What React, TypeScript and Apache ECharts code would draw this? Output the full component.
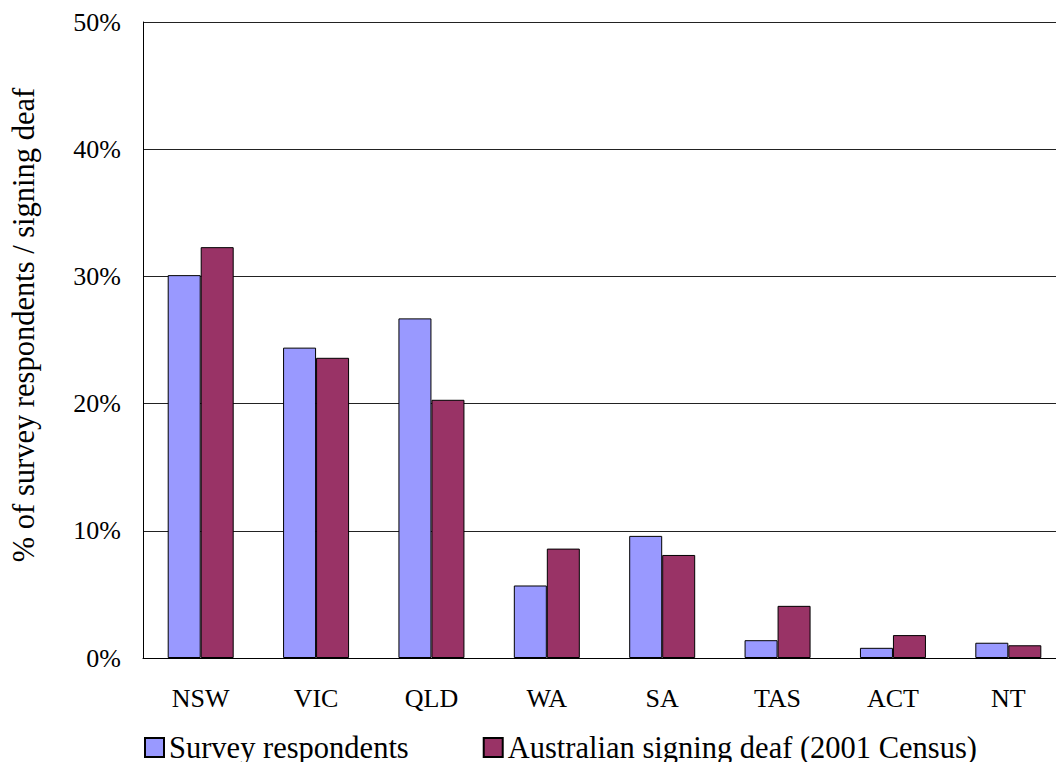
import React, { useEffect, useRef } from "react";
import * as echarts from "echarts";

const categories = ["NSW", "VIC", "QLD", "WA", "SA", "TAS", "ACT", "NT"];
const surveyRespondents = [30.1, 24.4, 26.7, 5.7, 9.6, 1.4, 0.8, 1.2];
const signingDeafCensus = [32.3, 23.6, 20.3, 8.6, 8.1, 4.1, 1.8, 1.0];
const seriesNames = ["Survey respondents", "Australian signing deaf (2001 Census)"];
const yAxisTitle = "% of survey respondents / signing deaf";

const FONT = "Liberation Serif";

export default function App() {
  const ref = useRef<HTMLDivElement>(null);
  useEffect(() => {
    if (!ref.current) return;
    const chart = echarts.init(ref.current, null, { renderer: "svg" });
    chart.setOption({
      animation: false,
      backgroundColor: "#ffffff",
      textStyle: { fontFamily: FONT },
      grid: {
        left: 143,
        top: 22,
        width: 923,
        height: 636,
        containLabel: false,
        outerBoundsMode: "none",
      },
      legend: {
        left: 139,
        top: 727,
        itemWidth: 19,
        itemHeight: 19,
        itemGap: 74,
        icon: "rect",
        textStyle: { fontFamily: FONT, fontSize: 30.5, color: "#000" },
        data: seriesNames,
      },
      graphic: [
        {
          type: "text",
          x: 24,
          y: 325,
          rotation: Math.PI / 2,
          style: {
            text: yAxisTitle,
            fontFamily: FONT,
            fontSize: 30.5,
            fill: "#000",
            align: "center",
            verticalAlign: "middle",
          },
        },
      ],
      xAxis: {
        type: "category",
        data: categories,
        axisLine: { show: true, lineStyle: { color: "#000", width: 1 } },
        axisTick: { show: false },
        axisLabel: { fontFamily: FONT, fontSize: 26, color: "#000", margin: 27 },
      },
      yAxis: {
        type: "value",
        min: 0,
        max: 50,
        interval: 10,
        axisLine: { show: true, lineStyle: { color: "#000", width: 1 } },
        axisTick: { show: false },
        splitLine: { show: true, lineStyle: { color: "#222", width: 1 } },
        axisLabel: {
          fontFamily: FONT,
          fontSize: 26,
          color: "#000",
          margin: 22,
          formatter: (v: number) => `${v}%`,
        },
      },
      series: [
        {
          name: seriesNames[0],
          type: "bar",
          data: surveyRespondents,
          barWidth: 33,
          barGap: "0%",
          itemStyle: { color: "#9999FF", borderColor: "#000", borderWidth: 1 },
        },
        {
          name: seriesNames[1],
          type: "bar",
          data: signingDeafCensus,
          barWidth: 33,
          barGap: "0%",
          itemStyle: { color: "#993366", borderColor: "#000", borderWidth: 1 },
        },
      ],
    });
    return () => chart.dispose();
  }, []);
  return <div ref={ref} style={{ width: 1056, height: 762, position: "absolute", left: 0, top: 0 }} />;
}
